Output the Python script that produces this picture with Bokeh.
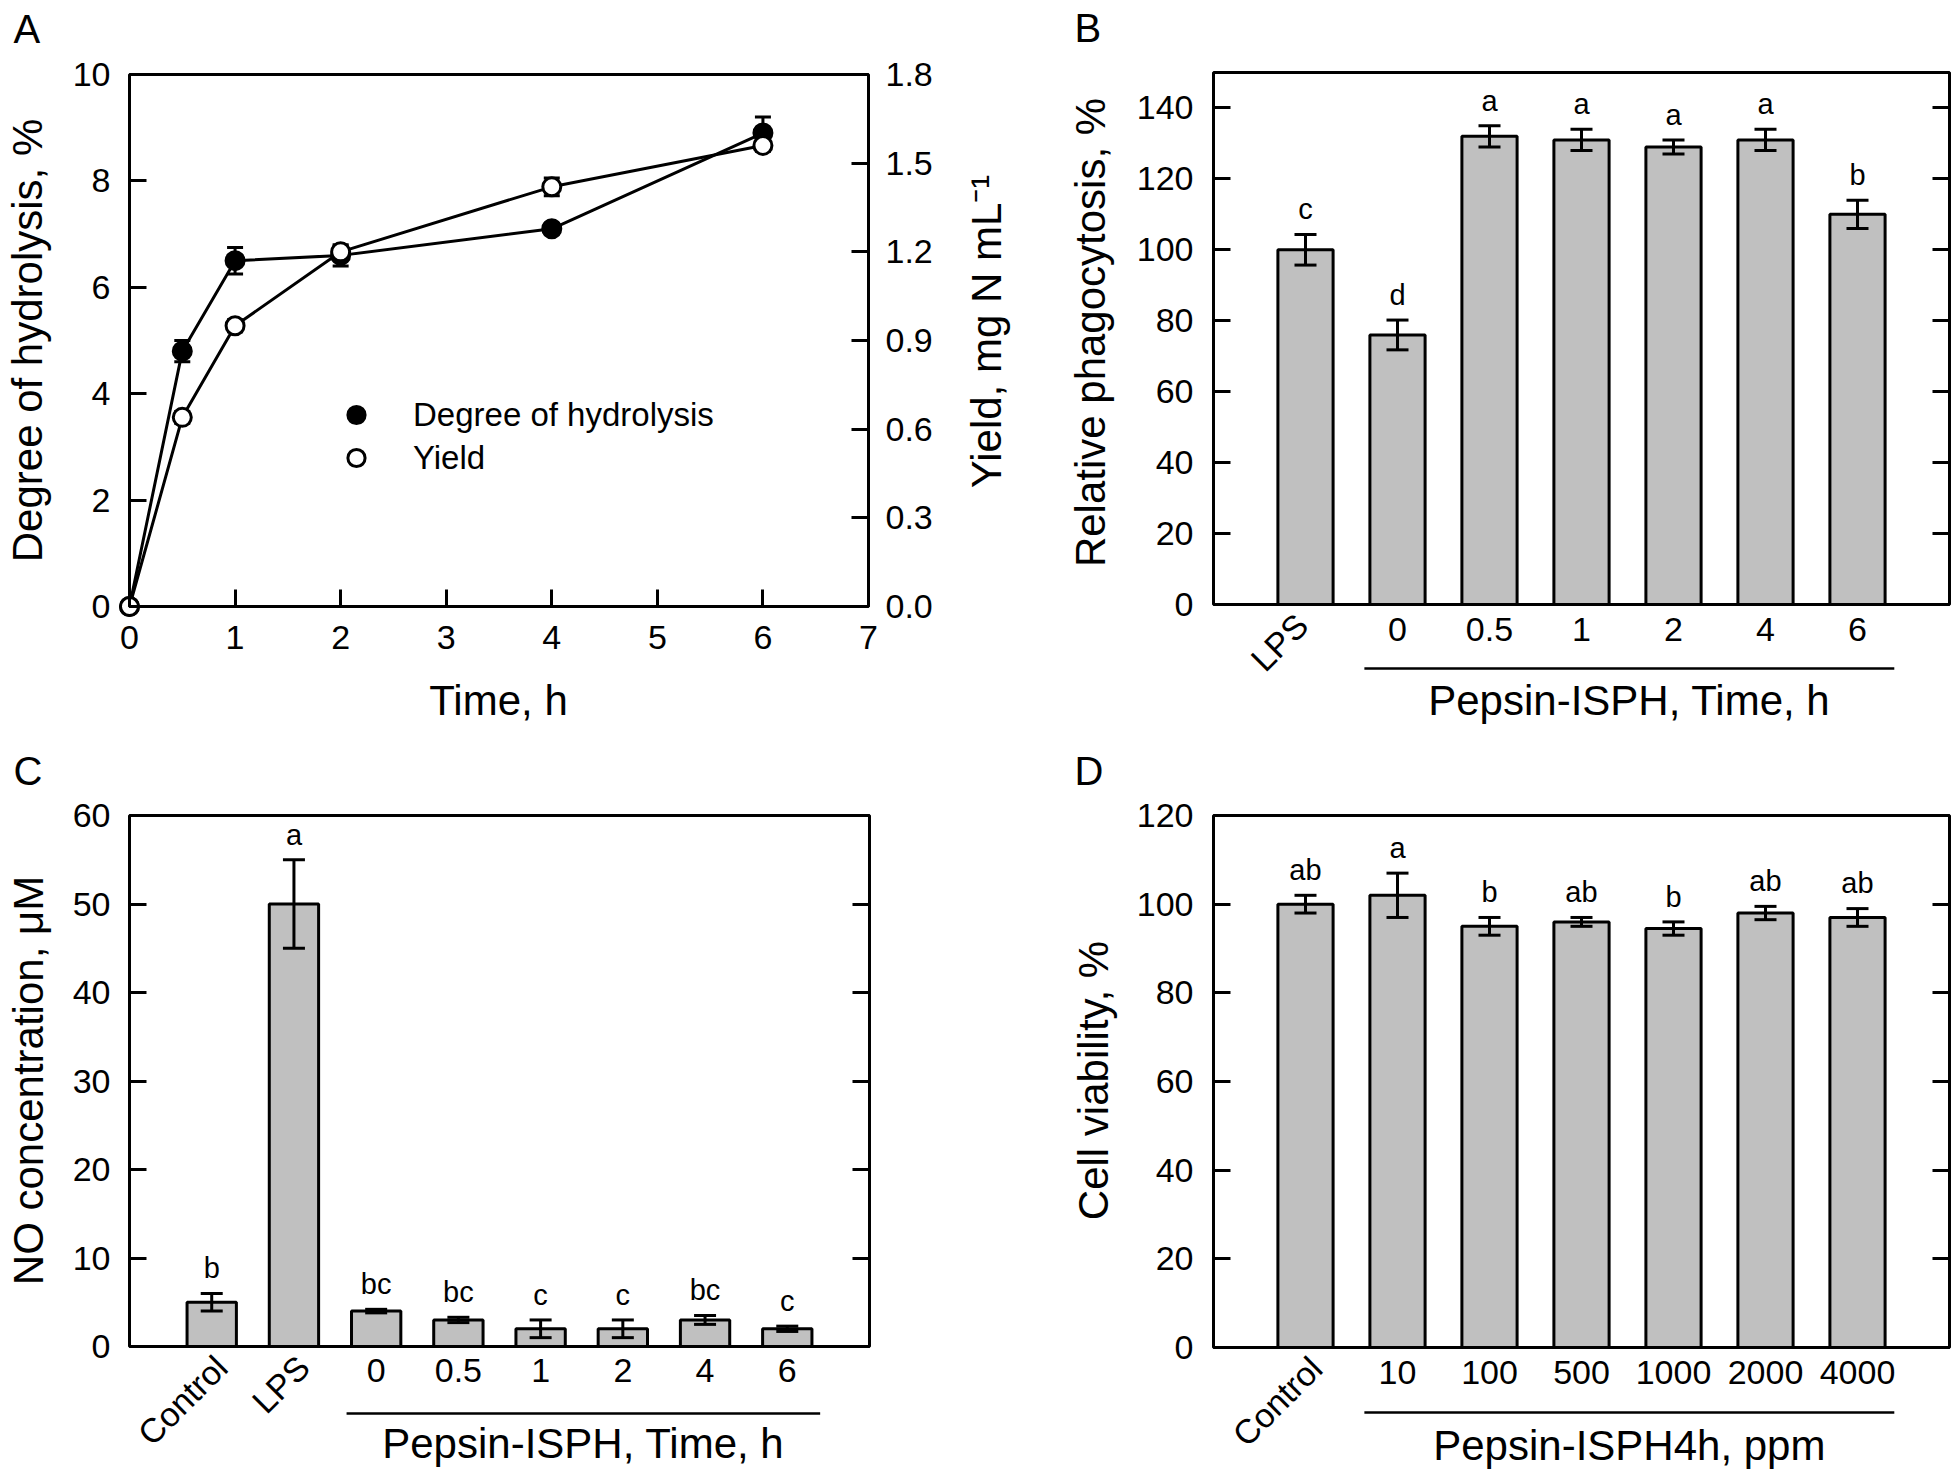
import math
from bokeh.plotting import figure
from bokeh.models import (ColumnDataSource, Range1d, LinearAxis, FixedTicker, NumeralTickFormatter,
                          CustomJSTickFormatter, Whisker, TeeHead, Label, Arrow, Legend, LegendItem,
                          BoxAnnotation)
from bokeh.layouts import row, column
from bokeh.embed import file_html
from bokeh.resources import INLINE
from bokeh.core.properties import value

FONT = "Liberation Sans"
GRAY = "#C0C0C0"

# ---------------- data ----------------
# Panel A
a_time = [0, 0.5, 1, 2, 4, 6]
a_dh = [0, 4.8, 6.5, 6.6, 7.1, 8.9]
a_dh_err = [0, 0.2, 0.25, 0.2, 0.1, 0.3]
a_yield = [0, 0.64, 0.95, 1.2, 1.42, 1.56]
a_yield_err = [0, 0.02, 0.02, 0.02, 0.03, 0.02]
a_xticks = [0, 1, 2, 3, 4, 5, 6, 7]
a_yticks = [0, 2, 4, 6, 8, 10]
a_y2ticks = [0.0, 0.3, 0.6, 0.9, 1.2, 1.5, 1.8]

# Panel B
b_controls = ["LPS"]
b_groups = ["0", "0.5", "1", "2", "4", "6"]
b_values = [100, 76, 132, 131, 129, 131, 110]
b_errors = [4.3, 4.2, 3, 3, 2, 3, 4]
b_letters = ["c", "d", "a", "a", "a", "a", "b"]
b_yticks = [0, 20, 40, 60, 80, 100, 120, 140]

# Panel C
c_controls = ["Control", "LPS"]
c_groups = ["0", "0.5", "1", "2", "4", "6"]
c_values = [5, 50, 4, 3, 2, 2, 3, 2]
c_errors = [1, 5, 0.2, 0.3, 1, 1, 0.5, 0.3]
c_letters = ["b", "a", "bc", "bc", "c", "c", "bc", "c"]
c_yticks = [0, 10, 20, 30, 40, 50, 60]

# Panel D
d_controls = ["Control"]
d_groups = ["10", "100", "500", "1000", "2000", "4000"]
d_values = [100, 102, 95, 96, 94.5, 98, 97]
d_errors = [2, 5, 2, 1, 1.5, 1.5, 2]
d_letters = ["ab", "a", "b", "ab", "b", "ab", "ab"]
d_yticks = [0, 20, 40, 60, 80, 100, 120]

# ---------------- styling / layout (page pixels) ----------------
TICK_FS = 34
TITLE_FS = 42
LETTER_FS = 29
PANEL_FS = 40
LEGEND_FS = 33
LETTER_GAP = 15
BASE_K = 0.35   # renderer places "alphabetic" text ~0.35em low; compensate
COL1_W, COL2_W = 1030, 928
ROW1_H, ROW2_H = 740, 730


class Panel:
    """A figure whose frame is the whole figure; the visible plot box is drawn inside it."""

    def __init__(self, fig_box, box, xv, yv):
        fx0, fy0, w, h = fig_box
        fl, fr, ft, fb = box
        self.fig_box = fig_box
        self.box = box
        self.xv, self.yv = xv, yv
        self.ppx = (fr - fl) / (xv[1] - xv[0])
        self.ppy = (fb - ft) / (yv[1] - yv[0])
        xr = (xv[0] - (fl - fx0) / self.ppx, xv[1] + (fx0 + w - fr) / self.ppx)
        yr = (yv[0] - (fy0 + h - fb) / self.ppy, yv[1] + (ft - fy0) / self.ppy)
        p = figure(width=w, height=h, x_range=Range1d(*xr), y_range=Range1d(*yr),
                   output_backend="svg", toolbar_location=None, min_border=0)
        p.xgrid.visible = False
        p.ygrid.visible = False
        p.outline_line_color = None
        p.background_fill_color = "white"
        p.border_fill_color = "white"
        p.add_layout(BoxAnnotation(left=xv[0], right=xv[1], bottom=yv[0], top=yv[1],
                                   fill_color=None, fill_alpha=0, line_color="black",
                                   line_width=3, line_alpha=1))
        self.p = p

    def X(self, px):
        return self.xv[0] + (px - self.box[0]) / self.ppx

    def Y(self, py):
        return self.yv[0] + (self.box[3] - py) / self.ppy

    def text_at(self, x, y, text, fs, align="center", angle=0.0):
        """x, y in data units (baseline anchor); fs in px."""
        shift = BASE_K * fs
        x += -math.sin(angle) * shift / self.ppx
        y += math.cos(angle) * shift / self.ppy
        self.p.add_layout(Label(x=x, y=y, text=text, angle=angle,
                                text_align=align, text_baseline="alphabetic",
                                text_font=FONT, text_font_size=f"{fs}px", text_color="black"))

    def label(self, px, py, text, fs, align="center", angle=0.0):
        self.text_at(self.X(px), self.Y(py), text, fs, align, angle)


def style_axis(ax, ticks, standoff, loc):
    ax.fixed_location = loc
    ax.ticker = FixedTicker(ticks=ticks)
    ax.axis_label = None
    ax.axis_line_color = None
    ax.major_tick_in = 17
    ax.major_tick_out = 0
    ax.minor_tick_line_color = None
    ax.major_tick_line_width = 3
    ax.major_tick_line_color = "black"
    ax.major_label_text_font = FONT
    ax.major_label_text_font_size = f"{TICK_FS}px"
    ax.major_label_text_color = "black"
    ax.major_label_standoff = standoff


# ---------------- panel A ----------------
A = Panel((0, 0, COL1_W, ROW1_H), (129, 868, 74, 606), (0, 7), (0, 10))
pA = A.p
a_y2v = (0, 1.8)
ppy2 = (A.box[3] - A.box[2]) / (a_y2v[1] - a_y2v[0])
pA.extra_y_ranges = {"yield": Range1d(a_y2v[0] - (ROW1_H - A.box[3]) / ppy2,
                                      a_y2v[1] + (A.box[2] - 0) / ppy2)}

srcA = ColumnDataSource(dict(
    t=a_time, dh=a_dh, yl=a_yield,
    dh_up=[v + e for v, e in zip(a_dh, a_dh_err)],
    dh_lo=[v - e for v, e in zip(a_dh, a_dh_err)],
    y_up=[v + e for v, e in zip(a_yield, a_yield_err)],
    y_lo=[v - e for v, e in zip(a_yield, a_yield_err)],
))
pA.line(x="t", y="dh", source=srcA, line_color="black", line_width=3)
pA.line(x="t", y="yl", source=srcA, line_color="black", line_width=3, y_range_name="yield")
pA.add_layout(Whisker(base="t", upper="dh_up", lower="dh_lo", source=srcA, line_width=3,
                      line_color="black",
                      upper_head=TeeHead(size=16, line_width=3, line_color="black"),
                      lower_head=TeeHead(size=16, line_width=3, line_color="black")))
pA.add_layout(Whisker(base="t", upper="y_up", lower="y_lo", source=srcA, line_width=3,
                      line_color="black", y_range_name="yield",
                      upper_head=TeeHead(size=16, line_width=3, line_color="black"),
                      lower_head=TeeHead(size=16, line_width=3, line_color="black")))
r_dh = pA.scatter(x="t", y="dh", source=srcA, marker="circle", size=18,
                  fill_color="black", line_color="black", line_width=3)
r_y = pA.scatter(x="t", y="yl", source=srcA, marker="circle", size=18,
                 fill_color="white", line_color="black", line_width=3, y_range_name="yield")

style_axis(pA.yaxis[0], a_yticks, 19, 0)
style_axis(pA.xaxis[0], a_xticks, 19, 0)
axA2 = LinearAxis(y_range_name="yield", formatter=NumeralTickFormatter(format="0.0"))
style_axis(axA2, a_y2ticks, 17, 7)
pA.add_layout(axA2, "right")

A.label(42, 340, "Degree of hydrolysis, %", TITLE_FS, angle=math.pi / 2)
A.label(498, 715, "Time, h", TITLE_FS)
A.label(1001, 331, "Yield, mg N mL\u207b\u00b9", TITLE_FS, angle=math.pi / 2)
A.label(13, 42, "A", PANEL_FS, align="left")

legA = Legend(items=[LegendItem(label="Degree of hydrolysis", renderers=[r_dh]),
                     LegendItem(label="Yield", renderers=[r_y])],
              location=(331, ROW1_H - 479), glyph_width=50, glyph_height=43, label_height=43,
              spacing=0, padding=0, margin=0, label_standoff=32,
              border_line_color=None, background_fill_alpha=0,
              label_text_font=FONT, label_text_font_size=f"{LEGEND_FS}px",
              label_text_color="black")
pA.add_layout(legA)


# ---------------- bar panels ----------------
def bar_panel(fig_box, box, controls, groups, values, errors, letters, yticks, ymax,
              ylabel, ytitle_xy, group_label, rot_dx, ylab_standoff, xlab_standoff,
              line_py, group_base_py, letter, letter_xy):
    labels = controls + groups
    n = len(labels)
    P = Panel(fig_box, box, (-1, n), (0, ymax))
    p = P.p
    xs = list(range(n))
    upper = [v + e for v, e in zip(values, errors)]
    lower = [v - e for v, e in zip(values, errors)]
    lift = (LETTER_GAP + BASE_K * LETTER_FS) / P.ppy
    src = ColumnDataSource(dict(x=xs, top=values, upper=upper, lower=lower, letter=letters,
                                ly=[u + lift for u in upper]))
    p.vbar(x="x", top="top", bottom=0, width=0.6, source=src, fill_color=GRAY,
           line_color="black", line_width=3)
    p.add_layout(Whisker(base="x", upper="upper", lower="lower", source=src, level="overlay",
                         line_width=3, line_color="black",
                         upper_head=TeeHead(size=22, line_width=3, line_color="black"),
                         lower_head=TeeHead(size=22, line_width=3, line_color="black")))
    p.text(x="x", y="ly", text="letter", source=src, text_align="center",
           text_baseline="alphabetic", text_font=value(FONT),
           text_font_size=f"{LETTER_FS}px", text_color="black")

    # left axis
    style_axis(p.yaxis[0], yticks, ylab_standoff, -1)
    # right axis: inward ticks only
    axr = LinearAxis(formatter=CustomJSTickFormatter(code="return ''"))
    style_axis(axr, yticks, 0, n)
    p.add_layout(axr, "right")
    # bottom axis: horizontal group labels
    nc = len(controls)
    style_axis(p.xaxis[0], xs[nc:], xlab_standoff, 0)
    p.xaxis[0].major_tick_line_color = None
    p.xaxis[0].major_label_overrides = {i: labels[i] for i in xs[nc:]}
    # rotated control labels
    for i in range(nc):
        P.text_at(i + rot_dx / P.ppx, -23.5 / P.ppy, labels[i], TICK_FS,
                  align="right", angle=math.pi / 4)
    # group line + group label
    x0 = nc - 0.36
    x1 = n - 1 + 0.40
    yl = P.Y(line_py)
    p.add_layout(Arrow(start=None, end=None, x_start=x0, x_end=x1, y_start=yl, y_end=yl,
                       line_width=2.5, line_color="black"))
    P.text_at((x0 + x1) / 2, P.Y(group_base_py), group_label, TITLE_FS)
    P.label(ytitle_xy[0], ytitle_xy[1], ylabel, TITLE_FS, angle=math.pi / 2)
    P.label(letter_xy[0], letter_xy[1], letter, PANEL_FS, align="left")
    return p


pB = bar_panel((COL1_W, 0, COL2_W, ROW1_H), (1213, 1949, 72, 604), b_controls, b_groups,
               b_values, b_errors, b_letters, b_yticks, 150, "Relative phagocytosis, %",
               (1105, 332), "Pepsin-ISPH, Time, h", 5, 20, 13, 668, 715, "B", (1074, 41))
pC = bar_panel((0, ROW1_H, COL1_W, ROW2_H), (129, 869, 815, 1346), c_controls, c_groups,
               c_values, c_errors, c_letters, c_yticks, 60, "NO concentration, \u03bcM",
               (43, 1080), "Pepsin-ISPH, Time, h", 18, 19, 12, 1413, 1458, "C", (13, 784))
pD = bar_panel((COL1_W, ROW1_H, COL2_W, ROW2_H), (1213, 1949, 815, 1347), d_controls, d_groups,
               d_values, d_errors, d_letters, d_yticks, 120, "Cell viability, %",
               (1108, 1080), "Pepsin-ISPH4h, ppm", 19, 20, 13, 1412, 1460, "D", (1074, 784))

layout = column(row(pA, pB), row(pC, pD))
open("out.html", "w").write(file_html(layout, INLINE))
